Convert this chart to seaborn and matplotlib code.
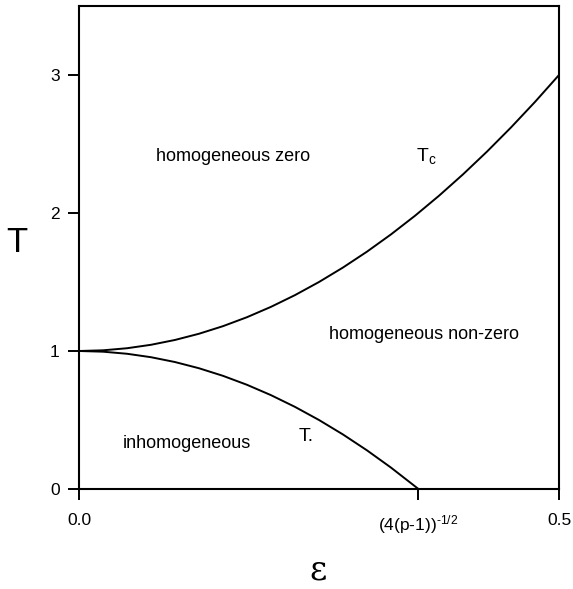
import numpy as np
import pandas as pd
import seaborn as sns
import matplotlib
matplotlib.use("Agg")
import matplotlib.pyplot as plt

# values
eps_c = [0.0, 0.025, 0.05, 0.075, 0.1, 0.125, 0.15, 0.175, 0.2, 0.225, 0.25,
         0.275, 0.3, 0.325, 0.35, 0.375, 0.4, 0.425, 0.45, 0.475, 0.5]
T_c = [1.0, 1.005, 1.02, 1.045, 1.08, 1.125, 1.18, 1.245, 1.32, 1.405, 1.5,
       1.605, 1.72, 1.845, 1.98, 2.125, 2.28, 2.445, 2.62, 2.805, 3.0]
eps_m = [0.0, 0.025, 0.05, 0.075, 0.1, 0.125, 0.15, 0.175, 0.2, 0.225, 0.25,
         0.275, 0.3, 0.325, 0.3536]
T_m = [1.0, 0.995, 0.98, 0.955, 0.92, 0.875, 0.82, 0.755, 0.68, 0.595, 0.5,
       0.395, 0.28, 0.155, 0.0]

xtick_pos = [0.0, 0.3536, 0.5]
xtick_labels = ["0.0", r"(4(p-1))$^{\text{-}1/2}$", "0.5"]
ytick_pos = [0, 1, 2, 3]
ytick_labels = ["0", "1", "2", "3"]

sns.set_theme(style="ticks")
plt.rcParams['font.family'] = ['Liberation Sans', 'DejaVu Sans']
plt.rcParams['mathtext.fontset'] = 'custom'
plt.rcParams['mathtext.rm'] = 'Liberation Sans'
plt.rcParams['mathtext.it'] = 'Liberation Sans:italic'
plt.rcParams['text.color'] = 'black'

fig = plt.figure(figsize=(5.73, 5.89), dpi=100)
ax = fig.add_axes([79/573, 1-489/589, (559-79)/573, (489-6)/589])

dc = pd.DataFrame({"eps": eps_c, "T": T_c})
dm = pd.DataFrame({"eps": eps_m, "T": T_m})
sns.lineplot(data=dc, x="eps", y="T", ax=ax, color="black", linewidth=1.4, sort=False)
sns.lineplot(data=dm, x="eps", y="T", ax=ax, color="black", linewidth=1.4, sort=False)

ax.set_xlim(0, 0.5)
ax.set_ylim(0, 3.5)
ax.set_xticks(xtick_pos)
ax.set_xticklabels(xtick_labels)
ax.set_yticks(ytick_pos)
ax.set_yticklabels(ytick_labels)
ax.tick_params(axis="both", direction="out", length=8, width=1.4, colors="black",
               labelsize=12.5, labelcolor="black", pad=6)
ax.tick_params(axis="x", pad=9)
for s in ax.spines.values():
    s.set_visible(True)
    s.set_linewidth(1.5)
    s.set_color("black")

ax.set_xlabel("")
ax.set_ylabel("")
fig.text(17/573, 1-243/589, "T", fontsize=25, ha="center", va="center", color="black")
fig.text(318/573, 1-570/589, "ε", fontsize=24, ha="center", va="center",
         family=["DejaVu Serif"], color="black")

kw = dict(fontsize=13, color="black", ha="center", va="center")
ax.text(0.160, 2.41, "homogeneous zero", **kw)
ax.text(0.362, 2.41, r"T$_\mathrm{c}$", fontsize=14, ha="center", va="center", color="black")
ax.text(0.359, 1.12, "homogeneous non-zero", **kw)
ax.text(0.237, 0.38, "T.", fontsize=14, ha="center", va="center", color="black")
ax.text(0.1125, 0.33, "inhomogeneous", **kw)

fig.savefig("out.png", dpi=100)
